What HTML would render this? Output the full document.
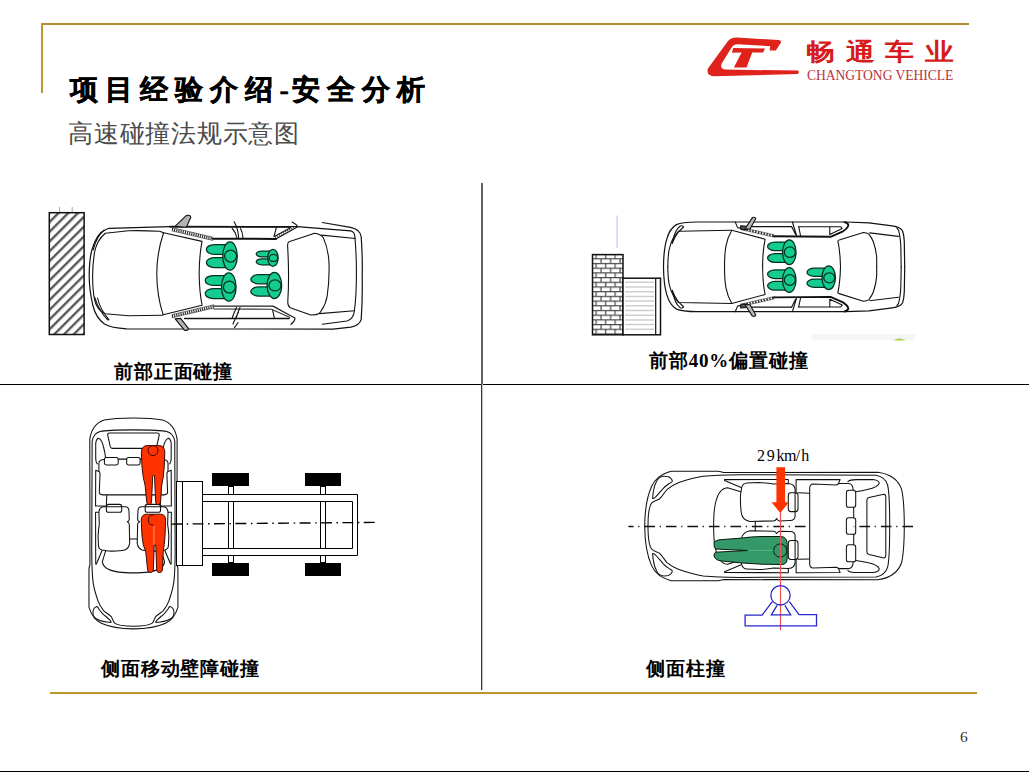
<!DOCTYPE html>
<html><head><meta charset="utf-8">
<style>
html,body{margin:0;padding:0;background:#fff;}
body{width:1029px;height:772px;position:relative;overflow:hidden;font-family:"Liberation Sans",sans-serif;}
.a{position:absolute;}
.gold{background:#c29e2c;}
.t{position:absolute;white-space:nowrap;line-height:1;}
#title{left:69.5px;top:75.5px;font-size:28px;font-weight:bold;-webkit-text-stroke:0.5px #000;color:#000;font-family:"Liberation Serif",serif;}
#sub{left:68px;top:121px;font-size:25px;color:#4a4a4a;font-family:"Liberation Serif",serif;}
#brand{left:806px;top:40px;font-size:24px;font-weight:bold;color:#d41c1c;}
#brand-en{left:807px;top:68.6px;font-size:13.6px;color:#b8343e;font-family:"Liberation Serif",serif;letter-spacing:-0.05px;}
.cap{position:absolute;white-space:nowrap;line-height:1;font-size:19px;font-weight:bold;color:#000;font-family:"Liberation Serif",serif;}
#pg{left:960px;top:728.8px;font-size:15.5px;color:#333;font-family:"Liberation Serif",serif;}
svg{position:absolute;left:0;top:0;}
.c{display:inline-block;overflow:visible;}
#title .c,#brand .c{text-align:left;}
#brand .c{transform:scaleX(1.2);transform-origin:0 50%;}
#spd{left:757px;top:447.5px;font-size:16px;letter-spacing:0.9px;font-family:"Liberation Serif",serif;color:#000;}
</style></head>
<body>
<!-- top gold frame -->
<div class="a" style="left:41px;top:22.6px;width:928px;height:2.6px;background:#ae8c30;"></div>
<div class="a" style="left:41px;top:22.6px;width:2.2px;height:70px;background:#b89a34;"></div>
<!-- bottom gold line -->
<div class="a" style="left:50px;top:691.9px;width:927px;height:2.6px;background:#be9628;"></div>
<!-- grid -->
<div class="a" style="left:0;top:383.6px;width:1029px;height:1.4px;background:#000;"></div>
<div class="a" style="left:481px;top:183px;width:1.9px;height:201px;background:#636363;"></div>
<div class="a" style="left:481px;top:384px;width:1.2px;height:306px;background:#3a3a3a;"></div>
<div class="a" style="left:482.2px;top:384px;width:1px;height:306px;background:#c4c4c4;"></div>
<!-- bottom black line -->
<div class="a" style="left:0;top:770.8px;width:1029px;height:1.2px;background:#000;"></div>


<svg width="1029" height="772" viewBox="0 0 1029 772" id="cars">
<defs>
  <pattern id="hatch" patternUnits="userSpaceOnUse" x="4.5" width="6.9" height="6.9" patternTransform="rotate(45)">
    <rect x="0" y="0" width="2.4" height="6.9" fill="#585858"/>
  </pattern>
  <pattern id="brick" patternUnits="userSpaceOnUse" x="592.5" y="258.2" width="9.5" height="9.4">
    <rect x="0" y="0" width="9.5" height="9.4" fill="#fff"/>
    <rect x="0" y="0" width="9.5" height="1.2" fill="#4a4a4a"/>
    <rect x="0" y="4.7" width="9.5" height="1.2" fill="#4a4a4a"/>
    <rect x="8" y="0" width="1.2" height="4.7" fill="#4a4a4a"/>
    <rect x="3" y="4.7" width="1.2" height="4.7" fill="#4a4a4a"/>
  </pattern>
  <g id="sedan" fill="none" stroke="#111" stroke-width="1.1" stroke-linejoin="round" stroke-linecap="round">
    <!-- outer body -->
    <path d="M350.5,230.8 Q354.5,232 354.8,236 Q356.6,256 356.4,275 Q356.4,296 354.4,310.7 Q353.5,319 347,321 L322.3,324.3"/>
    <path d="M322.3,222.5 L350.5,227.4 Q360.5,229.5 361.2,237 Q362.6,256 362.2,277 Q362.6,300 361.2,319.4 Q359.5,325.5 351,327.2 L333,329.1 L126.6,328.8 Q111,328 104.5,324 Q96,318 93,306 Q89.2,290 89.2,276 Q89.2,258 92.5,248 Q97,233 106,229.5 L109.2,228.3 L169.4,226.6 L297,226.6 L350.5,230.8" stroke-width="1.2"/>
    <!-- hood inner edges -->
    <path d="M163.6,232.7 L159.7,231.2 Q140,230.4 128.6,230.8 L105.3,233.2 Q97,240 94.6,252 Q92.6,264 92.6,276 Q92.6,290 94.6,300 Q97,310 105.3,313.7 L128.6,315.7 L162.6,315.2"/>
    <!-- headlight slivers -->
    <path d="M104,230.2 Q96.5,236 93.2,250"/>
    <path d="M94.6,297.2 Q99,311 107.6,319.8 Q110,320.5 108.2,318.6 Q100,309 97.5,298"/>
    <!-- windshield -->
    <path d="M163.6,232.7 Q156.6,253 156.8,275 Q157,296 163.1,314.7"/>
    <path d="M163.6,232.7 L202,241.4 Q199,258 199.2,275 Q199.4,292 202.1,305.3 L163.1,314.7"/>
    <!-- A pillars hatched -->
    <path d="M172,229.3 L212.8,238.7" stroke="#222" stroke-width="2.6" stroke-dasharray="1.1 1.1" stroke-linecap="butt"/>
    <path d="M172,316.2 L213.7,306.4" stroke="#222" stroke-width="2.6" stroke-dasharray="1.1 1.1" stroke-linecap="butt"/>
    <path d="M172,227.6 L212.8,237.2 M172,230.9 L212.8,240.4 M172,317.8 L213.7,308 M172,314.6 L213.7,304.8" stroke-width="0.6"/>
    <!-- roof lines -->
    <path d="M212.8,238.8 L275.9,238.9" stroke-width="2"/>
    <path d="M275.9,238.9 L297.3,227"/>
    <path d="M274.4,236.5 L290.5,227.7 L289,227"/>
    <path d="M275.2,237.7 L293.9,227.4" stroke="#333" stroke-width="1.6" stroke-dasharray="1 1.3" stroke-linecap="butt"/>
    <path d="M170,226.7 L289,226.9" stroke-width="1.8"/>
    <path d="M276.4,227.7 L274,236.5"/>
    <path d="M213.7,306.1 L273,306.1 L294.8,318 Q295.5,320.5 291,324.3" stroke-width="1.3" stroke="#222"/>
    <path d="M213.7,309 L271.5,309.2 L289.5,317.2 Q290,318.4 288.5,318.8" stroke="#333"/>
    <path d="M184.6,318.5 L288.3,318.5" stroke-width="1.4"/>
    <path d="M272.7,310.2 L274.4,318.5"/>
    <!-- B pillars -->
    <path d="M234.1,221.8 Q238,228 238.6,237.5 M232.2,228.5 Q235.6,232 236.8,237.5 M240.5,228.5 Q242.6,232 242.9,237.5"/>
    <path d="M236.5,307.5 Q233.5,314 232,318.5 M240,307.5 Q237.5,313 236,318.5 M238.5,312 Q235,319 233,324"/>
    <!-- rear glass -->
    <path d="M289,241.8 L314.6,233.2 Q320.5,234 323.3,237.6 Q328.8,250 329.1,265 Q329.3,282 327.2,296 Q325.8,304 321.4,310.6 Q319.5,314.3 316,314.6 L310.7,315 L290.3,307.8 Q287.6,306 287.8,302 Q289.4,275 287.6,246 Q287.5,242.6 289,241.8"/>
    <path d="M321.4,235.1 L355.4,238.5 M319.4,313.6 L354.4,310.7"/>
    <!-- rear fender tick -->
    <path d="M292,222 Q296,224 297.5,226.4"/>
    <path d="M238,322.5 Q236,325.6 234.5,327.6"/>
    <!-- mirrors -->
    <path d="M175,226.4 L186.2,215.6 Q190.4,214.6 190.8,217.2 L186.4,227.2 Z" fill="#b4b4b4"/>
    <path d="M175.2,318.8 L180.6,318.4 L188.6,328.6 Q188,331 184.4,330.2 Z" fill="#b4b4b4"/>
  </g>

  <g id="hb" fill="none" stroke="#111" stroke-linejoin="round" stroke-linecap="round">
    <!-- outer contour -->
    <path d="M644.7,526 C644.8,512 646.8,497 651.6,486.5 C655,479 660,474.8 671.1,471.3 L717.7,471.3 Q721,471.5 723.6,472.5 L878,472.3 C890,474 898.6,480 901.8,490 C903.8,500 904.3,512 904.3,526 C904.3,540 903.8,552 901.8,562 C898.6,572 890,578 878,579.8 L723.6,579.6 Q721,580.6 717.7,580.8 L671.1,580.8 C660,577.3 655,573 651.6,565.6 C646.8,555 644.8,540 644.7,526 Z"/>
    <!-- inner contour / hood -->
    <path d="M648,526 C648,515 648.4,507 651.7,502.9 C654.5,500.4 657,500.4 659.4,499 C663,495.6 665,491.4 667.2,489.3 C672,485.6 675,484 678.9,482.5 C690,478.6 697,477 703.2,476.2 C715,475 725,474.8 740,474.7 L876.1,475.2 C882,476.4 886,479 887.6,485 C889.2,491 889.7,500 889.7,526 C889.7,552 889.2,561 887.6,567.1 C886,573.1 882,575.7 876.1,576.9 L740,577.4 C725,577.3 715,577.1 703.2,575.9 C697,575.1 690,573.5 678.9,569.6 C675,568.1 672,566.5 667.2,562.8 C665,560.7 663,556.5 659.4,553.1 C657,551.7 654.5,551.7 651.7,549.2 C648.4,545.1 648,537 648,526 Z"/>
    <!-- headlights -->
    <path d="M652.6,498.5 C653,492 654,486 656.5,481.5 C658,478 661,476.2 664.3,476.2 C667,476.2 669,476.5 670.1,477.6 C671.5,479 672.6,480 672.3,481.2 C671.5,482.5 670.5,482.8 669.2,483.5 C667,485 665,486.5 663.3,488.3 C660,492 658,494.5 655.5,497.1 C654.5,498 653.5,498.7 652.6,498.5 Z"/>
    <path d="M652.6,553.6 C653,560.1 654,566.1 656.5,570.6 C658,574.1 661,575.9 664.3,575.9 C667,575.9 669,575.6 670.1,574.5 C671.5,573.1 672.6,572.1 672.3,570.9 C671.5,569.6 670.5,569.3 669.2,568.6 C667,567.1 665,565.6 663.3,563.8 C660,560.1 658,557.6 655.5,555 C654.5,554.1 653.5,553.4 652.6,553.6 Z"/>
    <!-- windshield / dash -->
    <path d="M740.7,491.8 L727.5,487.8 C719.5,488.4 716.2,497 714.6,508 C713.3,517 713.3,535 714.6,544 C716.2,555 719.5,563.7 727.5,564.3 L740.7,560.3"/>
    <!-- A pillars -->
    <path d="M724.5,480.4 L741.2,487.4 M724.5,571.7 L741.2,564.7"/>
    <!-- window lines -->
    <path d="M724.5,479.6 L788.3,479.4 L788.3,483.2 M796.1,493.2 L796.1,479.4 L840.1,479.6 L837.7,485.2 M724.5,572.5 L788.3,572.7 L788.3,568.9 M796.1,558.9 L796.1,572.7 L840.1,572.5 L837.7,566.9"/>
    <path d="M798,492.8 L809.4,493.2 M798,559.3 L809.4,558.9"/>
    <!-- front seats -->
    <path d="M741.7,487.4 Q743,483.2 747,483 L759.2,482.5 Q768,483 773.7,484 L788.3,483.5 Q795.1,484 795.1,490 L795.1,516 Q795,520.4 790,520.5 L779.6,520.9 Q777.5,520.5 776.6,518.5 Q775.7,520.8 773.7,520.9 L750,521.4 Q741.7,520 741.2,512 Q740.2,503.9 740.5,495 Z"/>
    <path d="M741.7,564.7 Q743,568.9 747,569.1 L759.2,569.6 Q768,569.1 773.7,568.1 L788.3,568.6 Q795.1,568.1 795.1,562.1 L795.1,536.1 Q795,531.7 790,531.6 L779.6,531.2 Q777.5,531.6 776.6,533.6 Q775.7,531.3 773.7,531.2 L750,530.7 Q741.7,532.1 741.2,540.1 Q740.2,548.2 740.5,557.1 Z"/>
    <rect x="788.3" y="492.7" width="9.7" height="18.9" rx="2.6"/>
    <rect x="788.3" y="540.5" width="9.7" height="18.9" rx="2.6"/>
    <path d="M755.3,521.4 L755.3,530.7"/>
    <!-- rear bench -->
    <path d="M809.7,488 Q810,484.2 813,484 L836.2,484.9 L839.2,483.5 L848.9,483.5 Q853,484 853.7,490.3 L853.7,561.8 Q853,568.1 848.9,568.6 L839.2,568.6 L836.2,567.2 L813,568.1 Q810,567.9 809.7,564.1 Z" fill="#fff" stroke="none"/>
    <path d="M809.7,526 L809.7,488 Q810,484.2 813,484 L836.2,484.9 L839.2,483.5 L848.9,483.5 Q853,484 853.2,490.3 M853.7,507.3 L853.7,517.7 M853.7,534.3 L853.7,544.8 M853.2,561.8 Q853,568.1 848.9,568.6 L839.2,568.6 L836.2,567.2 L813,568.1 Q810,567.9 809.7,564.1 L809.7,526"/>
    <rect x="846.4" y="490.3" width="9.3" height="17" rx="2.4"/>
    <rect x="846.4" y="517.7" width="9.3" height="16.6" rx="2.4"/>
    <rect x="846.4" y="544.8" width="9.3" height="17" rx="2.4"/>
    <!-- rear quarter windows -->
    <path d="M847.9,481.5 Q850,479.6 856,479.6 L873.2,479.6 Q879.5,480.5 879.2,483.6 Q877,487.5 868.3,489.3 Q862,491 855.7,491.7"/>
    <path d="M847.9,570.6 Q850,572.5 856,572.5 L873.2,572.5 Q879.5,571.6 879.2,568.5 Q877,564.6 868.3,562.8 Q862,561.1 855.7,560.4"/>
    <!-- rear window -->
    <path d="M866.9,500 Q867,498 869,497.5 L883.9,494.2 Q885.8,494.5 885.8,497 L885.8,555 Q885.8,557.6 883.9,557.9 L869,554.6 Q867,554 866.9,552 Z"/>
  </g>
  <g id="c2h" fill="none" stroke="#111" stroke-width="1.1" stroke-linejoin="round" stroke-linecap="round">
    <path d="M663.5,266.85 C663.6,255 664.6,246 666.8,239 C668.8,232 672,227 676.5,224.6 C680,223 686,222.2 697.3,222 L845.6,222 L868.9,222.8 L892.2,225.9 Q900.5,227 902.6,231 Q904,235 904.3,242 L904.7,266.85" stroke-width="1.2"/>
    <path d="M667.8,266.85 C667.9,256 668.6,250 670.1,246.1 C671.5,241 673.5,236.5 678.7,231.2 L731.8,230.2"/>
    <path d="M672.2,243.5 C673.5,236 676,229 680.2,226 C682,225.4 683.5,226 683.6,227 C681,229.5 679,231 678,232.5 C675.5,236 673.5,240 672.2,243.5 Z"/>
    <path d="M724.5,266.85 C724.5,250 726,240 731.8,230.2 L765.1,239.2 C763.3,248 762.6,257 762.6,266.85"/>
    <path d="M735.2,221.9 L737.6,227.6 L741,228.3"/>
    <path d="M741,228.4 L774,235.9" stroke="#222" stroke-width="2.3" stroke-dasharray="1.3 1.6" stroke-linecap="butt"/>
    <path d="M741,227.2 L774,234.7 M741,229.6 L774,237.1" stroke-width="0.5"/>
    <path d="M750.9,226.6 L791.7,226.6 M798.7,226.7 L840.7,226.7 L842.2,228.6 L829.8,234.4 L829.8,226.7"/>
    <path d="M774,236.3 L830.5,236.8 L843,231.3 Q847.7,228.2 848.4,225.1 Q847.8,223 844.5,222.2" stroke-width="1.9"/>
    <path d="M792.4,222 L796.7,236 M791.7,226.7 L795.6,234.4 M798.7,226.7 L800.6,236"/>
    <path d="M840.5,266.85 L840.1,257.8 Q839,245 837.8,241.2 Q838.5,240 840,239.8 L863.4,232.5 Q867,232.6 868.9,234.1 Q872,238 873.5,242.2 Q876.2,250 876.7,257.8 L876.7,266.85"/>
    <path d="M869.7,232.9 L898.4,236.4"/>
    <path d="M896.9,228.2 Q899,230 899.2,232.9 Q900.6,240 900.8,246.1 L901.2,266.85"/>
    <path d="M740.6,225.8 L747.4,226.2 L747.6,229.6 L741,229.4 Z" fill="#555"/>
    <path d="M745,229 L752.4,217.6 Q754.8,216.6 755.8,218.6 L750,229 Z" fill="#b8b8b8"/>
  </g>
  <g id="occ" stroke="#04301e" stroke-width="1.25" fill="#14cc92">
    <path vector-effect="non-scaling-stroke" d="M22,-11.5 L8,-11.5 C3,-11.5 0,-8.8 0,-6.6 C0,-4.4 3,-1.7 8,-1.7 L22,-1.7 Z"/>
    <path vector-effect="non-scaling-stroke" d="M22,11.5 L8,11.5 C3,11.5 0,8.8 0,6.6 C0,4.4 3,1.7 8,1.7 L22,1.7 Z"/>
    <ellipse vector-effect="non-scaling-stroke" cx="23.6" cy="0" rx="7.3" ry="14.1"/>
    <circle vector-effect="non-scaling-stroke" cx="24.2" cy="0" r="6"/>
  </g>
</defs>

<!-- ===== Panel 1: frontal ===== -->
<rect x="49.3" y="212.7" width="34.8" height="121.8" fill="url(#hatch)" stroke="#111" stroke-width="1.5"/>
<path d="M59.5,207 L59.5,212 M72.2,207 L72.2,212" stroke="#a8a8b4" stroke-width="1"/>
<use href="#sedan"/>
<use href="#occ" transform="translate(206.4,256)"/>
<use href="#occ" transform="translate(205.2,287)"/>
<use href="#occ" transform="translate(256.2,257.9) scale(0.71,0.6)"/>
<use href="#occ" transform="translate(250.8,285.4) scale(1,0.93)"/>

<!-- ===== Panel 2: offset ===== -->
<path d="M617.1,215.5 L617.1,247.9" stroke="#c8c8ee" stroke-width="1.2"/>
<rect x="592.5" y="254.6" width="30.5" height="80.2" fill="url(#brick)" stroke="#111" stroke-width="1.5"/>
<rect x="623" y="278.2" width="37.5" height="56.6" fill="#fff" stroke="#111" stroke-width="1.5"/>
<path d="M655.7,278.2 L655.7,334.8" stroke="#111" stroke-width="1.2"/>
<g stroke="#cfcfcf" stroke-width="1.5">
  <path d="M625,282.3 H654 M625,287 H654 M625,291.7 H654 M625,296.4 H654 M625,301.1 H654 M625,305.8 H654 M625,310.5 H654 M625,315.2 H654 M625,319.9 H654 M625,324.6 H654 M625,329.3 H654"/>
</g>
<use href="#c2h"/>
<use href="#c2h" transform="translate(0,533.7) scale(1,-1)"/>
<use href="#occ" transform="translate(767.6,252.2) scale(0.92,0.88)"/>
<use href="#occ" transform="translate(767.6,280) scale(0.92,0.88)"/>
<use href="#occ" transform="translate(807,277.8) scale(0.92,0.84)"/>
<rect x="812" y="334" width="103" height="6.2" fill="#f4f5f6"/>
<path d="M893.5,340.6 Q899.5,336.2 905.5,340.6 Z" fill="#a8d040"/>

<!-- ===== Panel 3: side MDB ===== -->
<use href="#hb" stroke-width="1.3" transform="translate(133.45,523.45) rotate(-90) scale(0.8123) translate(-774.5,-526.05)"/>
<g fill="#ff3300" stroke="#3a0c04" stroke-width="1">
  <path d="M141.4,452.5 Q141.6,446 147,445.6 L159.5,445.6 Q164.8,446 164.8,452.5 L164.2,467 Q163.5,478 161.6,486 L160.6,502 Q160.3,504.8 158,504.8 Q155.9,504.8 155.7,502 L154.5,476 Q153.6,473.8 152.7,476 L151.5,502 Q151.2,504.8 149,504.8 Q146.9,504.8 146.7,502 L145.2,486 Q142.8,477 142,467 Z"/>
  <circle cx="153" cy="450.6" r="5"/>
  <path d="M141.2,520 Q141.4,514.4 146.5,514.2 L160.5,514.2 Q165.7,514.4 165.6,520 L165,536 Q164.4,545 163.2,552 L162.4,570 Q162,572.6 159.4,572.6 Q157,572.6 156.7,570 L155.8,545 L154.2,545 L153.4,570 Q153,572.6 150.4,572.6 Q148,572.6 147.6,570 L145.8,552 Q142.6,545 142,536 Z"/>
  <path d="M153.6,515 Q148.2,515 148.2,520 Q148.4,525.2 153.6,525.4" fill="none"/>
</g>
<path d="M153.9,525.6 L153.9,545" stroke="#ffb0a0" stroke-width="0.8" fill="none"/>
<!-- MDB -->
<g fill="none" stroke="#000" stroke-width="1">
  <rect x="176.5" y="481.5" width="26" height="84" fill="#fff"/>
  <path d="M182.5,481.5 L182.5,565.5"/>
  <rect x="228.5" y="486.5" width="5" height="76" fill="#fff"/>
  <rect x="320.5" y="486.5" width="5" height="76" fill="#fff"/>
  <path fill="#fff" fill-rule="evenodd" d="M202.5,494.5 L357.5,494.5 L357.5,555.5 L202.5,555.5 Z M202.5,501.5 L352.5,501.5 L352.5,548.5 L202.5,548.5 Z"/>
</g>
<g fill="#000">
  <rect x="212" y="473" width="37" height="13"/>
  <rect x="212" y="563" width="37" height="13"/>
  <rect x="305" y="473" width="36" height="13"/>
  <rect x="305" y="563" width="36" height="13"/>
</g>
<path d="M171.2,524.1 L375,522.4" stroke="#000" stroke-width="1.4" stroke-dasharray="10.9 4.6 1.5 4.4" fill="none"/>

<!-- ===== Panel 4: pole ===== -->
<path d="M628.4,526.5 L913.2,526.5" stroke="#111" stroke-width="1.6" stroke-dasharray="10.6 4.7 1.2 5" stroke-dashoffset="5.5" fill="none"/>
<use href="#hb" stroke-width="1.05"/>
<g stroke="#06180e" stroke-width="1" fill="#349868">
  <path d="M714.1,542.7 Q715,540 722,539.6 L741.3,538.1 Q752,536.6 762,536.5 L781.7,536.5 Q787.2,537.5 787.2,544.3 L787.2,558.3 Q787.2,564.5 781.7,564.5 L762,564.2 L741.3,562.9 L722,561 Q715,560.5 714.1,555.9 Q713.6,553.8 715.6,552.2 L747.5,550.5 L715.6,549 Q713.6,547.2 714.1,542.7 Z"/>
  <circle cx="780.2" cy="550.5" r="6.6"/>
</g>
<path d="M748,550.5 L773.6,550.5" stroke="#52b282" stroke-width="0.9"/>
<path d="M776.4,467.2 L785.1,467.2 L785.1,502.2 L789,502.2 L780.3,512.9 L771.5,502.2 L776.4,502.2 Z" fill="#ff3300"/>
<path d="M780.5,512 L780.5,630.3" stroke="#f05050" stroke-width="1.2"/>
<g fill="none" stroke="#2828cc" stroke-width="1.3">
  <circle cx="780.5" cy="595.3" r="9.7"/>
  <path d="M772.3,601.6 L762.1,615.2 L745.1,615.2 L745.1,625.9 L816.5,625.9 L816.5,614.7 L799,614.7 L789.3,601.6"/>
  <path d="M777.1,605.4 L771.3,614.9 L790.7,614.9 L784.9,605.4"/>
</g>
</svg>

<div class="t" id="title"><span class="c" style="width:35px">项</span><span class="c" style="width:35px">目</span><span class="c" style="width:35px">经</span><span class="c" style="width:35px">验</span><span class="c" style="width:35px">介</span><span class="c" style="width:35px">绍</span><span class="c" style="width:12px">-</span><span class="c" style="width:35px">安</span><span class="c" style="width:35px">全</span><span class="c" style="width:35px">分</span><span class="c" style="width:35px">析</span></div>
<div class="t" id="sub"><span class="c" style="width:25.75px">高</span><span class="c" style="width:25.75px">速</span><span class="c" style="width:25.75px">碰</span><span class="c" style="width:25.75px">撞</span><span class="c" style="width:25.75px">法</span><span class="c" style="width:25.75px">规</span><span class="c" style="width:25.75px">示</span><span class="c" style="width:25.75px">意</span><span class="c" style="width:25.75px">图</span></div>

<svg width="1029" height="772" viewBox="0 0 1029 772">
  <!-- logo -->
  <g fill="#e0221c">
    <path d="M736.7,37.4 L778.8,40.1 Q781.8,40.8 780.8,42.8 L775.8,50.4 L769.6,50.4 L770.2,46.2 L737.5,44.3 Q733.6,44.4 731.8,47.2 L721.8,63.2 Q719.6,68.6 724.8,69.6 L798,70.6 Q799.6,72.3 798,74 L713,76.2 Q706.3,75.2 707.8,68.8 L727.6,41.4 Q730.6,37.6 736.7,37.4 Z"/>
    <path d="M733.2,48 L764.9,48.4 L763.2,52.4 L752.2,52.5 L746.6,67.4 L733.9,67.4 L741.6,52.6 L731.9,52.7 Z"/>
  </g>
</svg>
<div class="t" id="brand"><span class="c" style="width:39.6px">畅</span><span class="c" style="width:39.6px">通</span><span class="c" style="width:39.6px">车</span><span class="c" style="width:39.6px">业</span></div>
<div class="t" id="brand-en">CHANGTONG VEHICLE</div>

<div class="cap" style="left:114px;top:362px;"><span class="c" style="width:19.85px">前</span><span class="c" style="width:19.85px">部</span><span class="c" style="width:19.85px">正</span><span class="c" style="width:19.85px">面</span><span class="c" style="width:19.85px">碰</span><span class="c" style="width:19.85px">撞</span></div>
<div class="cap" style="left:649px;top:351px;"><span class="c" style="width:19.85px">前</span><span class="c" style="width:19.85px">部</span><span style="letter-spacing:0.8px">40%</span><span class="c" style="width:19.85px">偏</span><span class="c" style="width:19.85px">置</span><span class="c" style="width:19.85px">碰</span><span class="c" style="width:19.85px">撞</span></div>
<div class="cap" style="left:101px;top:659px;"><span class="c" style="width:19.85px">侧</span><span class="c" style="width:19.85px">面</span><span class="c" style="width:19.85px">移</span><span class="c" style="width:19.85px">动</span><span class="c" style="width:19.85px">壁</span><span class="c" style="width:19.85px">障</span><span class="c" style="width:19.85px">碰</span><span class="c" style="width:19.85px">撞</span></div>
<div class="cap" style="left:646px;top:659px;"><span class="c" style="width:19.85px">侧</span><span class="c" style="width:19.85px">面</span><span class="c" style="width:19.85px">柱</span><span class="c" style="width:19.85px">撞</span></div>
<div class="t" id="pg">6</div>
<div class="t" id="spd"><span style="letter-spacing:1.8px">29</span><span style="letter-spacing:-0.6px">km</span>/h</div>
</body></html>
